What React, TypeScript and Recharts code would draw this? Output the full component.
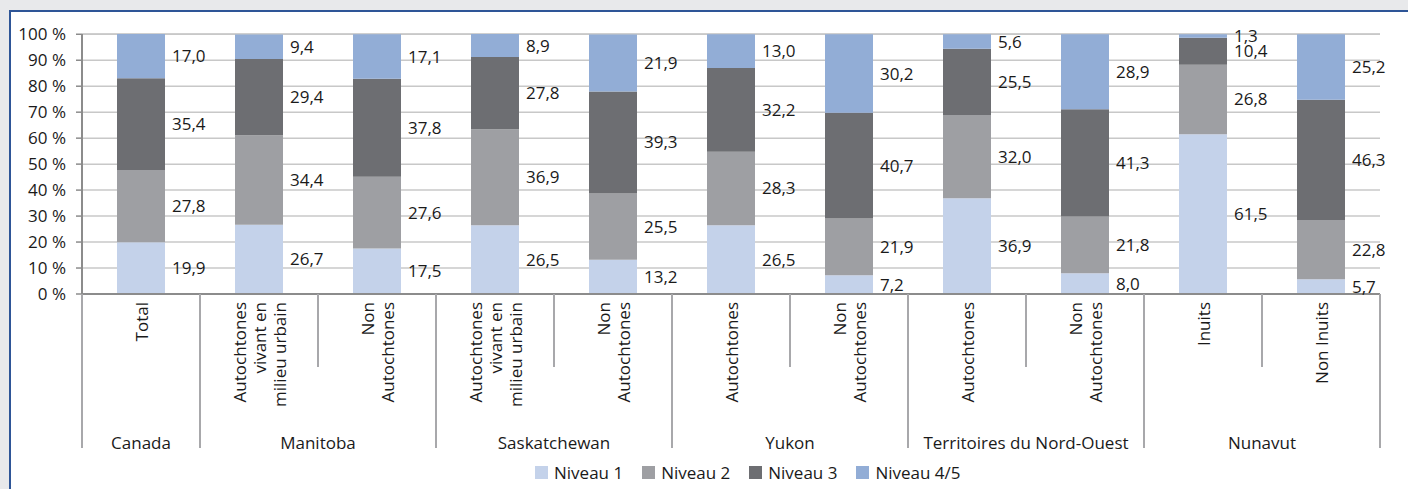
import React from 'react';
import { BarChart, Bar, XAxis, YAxis, CartesianGrid, Legend, LabelList } from 'recharts';

const subLabels = [
  ['Total'],
  ['Autochtones', 'vivant en', 'milieu urbain'],
  ['Non', 'Autochtones'],
  ['Autochtones', 'vivant en', 'milieu urbain'],
  ['Non', 'Autochtones'],
  ['Autochtones'],
  ['Non', 'Autochtones'],
  ['Autochtones'],
  ['Non', 'Autochtones'],
  ['Inuits'],
  ['Non Inuits'],
];
const groups = ['Canada', 'Manitoba', 'Manitoba', 'Saskatchewan', 'Saskatchewan', 'Yukon', 'Yukon',
  'Territoires du Nord-Ouest', 'Territoires du Nord-Ouest', 'Nunavut', 'Nunavut'];

const niveau1 = [19.9, 26.7, 17.5, 26.5, 13.2, 26.5, 7.2, 36.9, 8.0, 61.5, 5.7];
const niveau2 = [27.8, 34.4, 27.6, 36.9, 25.5, 28.3, 21.9, 32.0, 21.8, 26.8, 22.8];
const niveau3 = [35.4, 29.4, 37.8, 27.8, 39.3, 32.2, 40.7, 25.5, 41.3, 10.4, 46.3];
const niveau45 = [17.0, 9.4, 17.1, 8.9, 21.9, 13.0, 30.2, 5.6, 28.9, 1.3, 25.2];

const yTicks = [0, 10, 20, 30, 40, 50, 60, 70, 80, 90, 100];

const series = [
  { key: 'n1', name: 'Niveau 1', color: '#c4d2ea' },
  { key: 'n2', name: 'Niveau 2', color: '#9e9fa3' },
  { key: 'n3', name: 'Niveau 3', color: '#6d6e72' },
  { key: 'n45', name: 'Niveau 4/5', color: '#92add6' },
];

const data = subLabels.map((s, i) => ({
  id: String(i),
  n1: niveau1[i],
  n2: niveau2[i],
  n3: niveau3[i],
  n45: niveau45[i],
}));

const FONT = '"Open Sans", "Noto Sans", sans-serif';
const FS = 17;
const SEP = '#a8a8ab';

function CategoryTick(props: any) {
  const { x, y, index, payload } = props;
  const half = payload && payload.offset ? payload.offset : 59;
  const lines = subLabels[index];
  const lh = 20;
  const g = groups[index];
  const first = index === 0 || groups[index - 1] !== g;
  const size = groups.filter((v) => v === g).length;
  let groupX: number | null = null;
  if (first) groupX = size === 1 ? x : x + half;
  const last = index === subLabels.length - 1;
  return (
    <g>
      <line x1={x - half} x2={x - half} y1={y} y2={first ? y + 154 : y + 73} stroke={SEP} strokeWidth={2} />
      {last && <line x1={x + half} x2={x + half} y1={y} y2={y + 154} stroke={SEP} strokeWidth={2} />}
      {lines.map((t, i) => {
        const lx = x + (i - (lines.length - 1) / 2) * lh;
        return (
          <text
            key={i}
            x={lx}
            y={y + 8}
            transform={`rotate(-90, ${lx}, ${y + 8})`}
            textAnchor="end"
            dominantBaseline="central"
            fontSize={FS}
            fontFamily={FONT}
            fill="#1a1a1a"
          >
            {t}
          </text>
        );
      })}
      {groupX !== null && (
        <text x={groupX} y={y + 148} textAnchor="middle" dominantBaseline="central" fontSize={FS} fontFamily={FONT} fill="#1a1a1a">
          {g}
        </text>
      )}
    </g>
  );
}

function LegendContent(props: any) {
  const payload = props.payload || [];
  return (
    <div style={{ display: 'flex', fontFamily: FONT, fontSize: FS, color: '#1a1a1a', alignItems: 'center', height: 0, overflow: 'visible' }}>
      {payload.map((p: any) => (
        <div key={p.value} style={{ display: 'flex', alignItems: 'center', marginRight: 19 }}>
          <span style={{ width: 13, height: 13, background: p.color, display: 'inline-block', marginRight: 6 }} />
          <span>{p.value}</span>
        </div>
      ))}
    </div>
  );
}

const fmt = (v: any) => Number(v).toFixed(1).replace('.', ',');

export default function App() {
  return (
    <div style={{ position: 'fixed', left: 0, top: 0, width: 1408, height: 489, background: '#e8e9eb', overflow: 'hidden' }}>
      <div
        style={{
          position: 'absolute',
          left: 9,
          top: 10,
          width: 1408,
          height: 489,
          background: '#ffffff',
          borderLeft: '2px solid #2e5597',
          borderTop: '2px solid #2e5597',
        }}
      />
      <div style={{ position: 'absolute', left: 0, top: 0 }}>
        <BarChart width={1408} height={489} data={data} margin={{ top: 34, right: 28, bottom: 0, left: 0 }} barSize={48}>
          <CartesianGrid vertical={false} stroke="#c8c8c8" strokeWidth={1.5} />
          <XAxis
            dataKey="id"
            interval={0}
            tickLine={false}
            tickSize={0}
            tickMargin={0}
            axisLine={{ stroke: '#8c8c8c', strokeWidth: 2 }}
            tick={<CategoryTick />}
            height={195}
          />
          <YAxis
            domain={[0, 100]}
            ticks={yTicks}
            interval={0}
            width={82}
            tickFormatter={(v) => `${v} %`}
            tick={{ fontSize: FS, fill: '#1a1a1a', fontFamily: FONT }}
            tickLine={{ stroke: '#8c8c8c', strokeWidth: 1.5 }}
            tickSize={6}
            tickMargin={10}
            axisLine={{ stroke: '#8c8c8c', strokeWidth: 2 }}
          />
          <Legend
            content={<LegendContent />}
            wrapperStyle={{ position: 'absolute', left: 535, top: 472, width: 480, height: 0 }}
          />
          {series.map((s) => (
            <Bar key={s.key} dataKey={s.key} name={s.name} stackId="a" fill={s.color} isAnimationActive={false}>
              <LabelList
                dataKey={s.key}
                position="right"
                offset={7}
                formatter={fmt}
                style={{ fontSize: FS, fill: '#1a1a1a', fontFamily: FONT }}
              />
            </Bar>
          ))}
        </BarChart>
      </div>
    </div>
  );
}
